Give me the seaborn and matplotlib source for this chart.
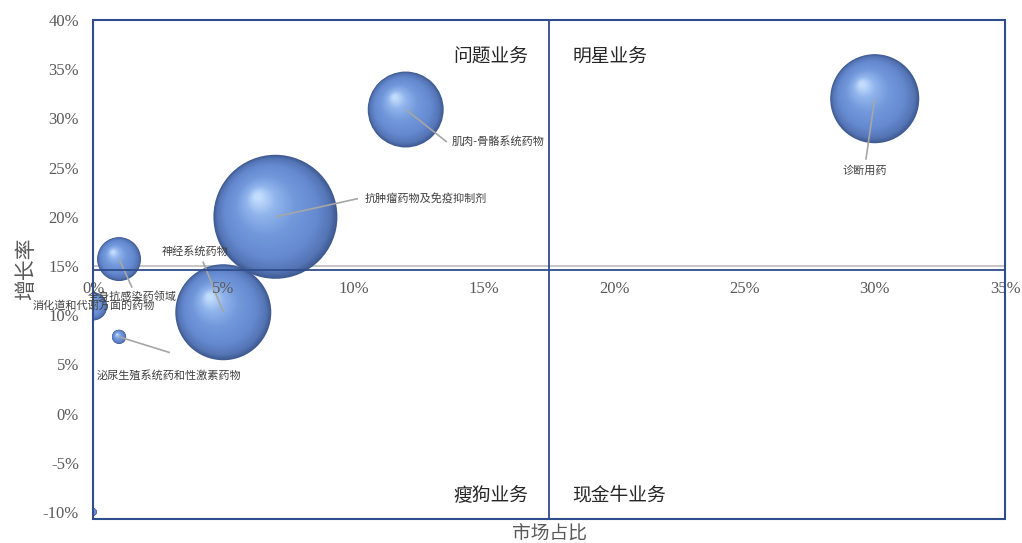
import numpy as np
import pandas as pd
import matplotlib
matplotlib.use("Agg")
import matplotlib.pyplot as plt
import seaborn as sns
from matplotlib.colors import LinearSegmentedColormap
from matplotlib.patches import Rectangle

# ---- data -------------------------------------------------------------
categories = ["抗肿瘤药物及免疫抑制剂", "神经系统药物", "诊断用药", "肌肉-骨骼系统药物",
              "全身抗感染药领域", "消化道和代谢方面的药物", "泌尿生殖系统药和性激素药物", ""]
share = [0.070, 0.050, 0.300, 0.120, 0.010, 0.000, 0.010, 0.000]       # 市场占比
growth = [0.200, 0.103, 0.320, 0.309, 0.157, 0.109, 0.078, -0.100]     # 增长率
scale = [384, 230, 198, 144, 48, 20, 5, 1.5]                             # 规模 (bubble area)

x_ticks = [0.00, 0.05, 0.10, 0.15, 0.20, 0.25, 0.30, 0.35]
y_ticks = [-0.10, -0.05, 0.00, 0.05, 0.10, 0.15, 0.20, 0.25, 0.30, 0.35, 0.40]
quadrants = ["问题业务", "明星业务", "瘦狗业务", "现金牛业务"]
x_split = 0.175
y_split = 0.146
y_ref = 0.15

# ---- style ------------------------------------------------------------
sns.set_theme(style="white")
plt.rcParams["font.family"] = ["Noto Sans CJK SC", "DejaVu Sans"]
NAVY = "#2f4d8c"
GREY_TXT = "#595959"
SERIF = ["Liberation Serif", "DejaVu Serif"]

fig, ax = plt.subplots(figsize=(10.22, 5.43), dpi=100)
fig.subplots_adjust(left=0.091, right=0.9834, bottom=0.0442, top=0.9632)
ax.set_xlim(0, 0.35)
ax.set_ylim(-0.1071, 0.40)
ax.set_axisbelow(False)

df = pd.DataFrame({"category": categories, "share": share,
                   "growth": growth, "scale": scale})

SMAX = 7973.0          # marker area (pt^2) of the largest bubble
NMAX = max(scale)

# base bubbles
sns.scatterplot(data=df, x="share", y="growth", size="scale",
                sizes=(0, SMAX), size_norm=(0, NMAX), legend=False,
                color="#3f5b92", edgecolor="none", linewidth=0, ax=ax, zorder=1)

# spherical shading: stacked, shrinking discs shifted toward the light
shade = LinearSegmentedColormap.from_list(
    "sphere",
    [(0.00, "#3f5b92"), (0.08, "#5474b4"), (0.25, "#6489cf"),
     (0.55, "#7399dc"), (0.80, "#90b4ec"), (1.00, "#c2dcfc")])
areas = np.array(scale, float) / NMAX * SMAX
r_px = np.sqrt(areas) / 2 * fig.dpi / 72
centers = ax.transData.transform(np.column_stack([share, growth]))
n_layers = 50
for k in range(1, n_layers):
    t = k / (n_layers - 1)
    f = 1 - 0.94 * t
    shift = (1 - f) * r_px[:, None] * np.array([-0.30, 0.34])
    pts = ax.transData.inverted().transform(centers + shift)
    ax.scatter(pts[:, 0], pts[:, 1], s=areas * f ** 2, color=shade(t),
               edgecolor="none", linewidth=0, zorder=1 + k * 0.001)

# reference and quadrant lines
ax.axhline(y_ref, color="#c0c0c0", lw=1.3, zorder=0.5)
ax.axvline(x_split, color=NAVY, lw=1.3, zorder=2.6)

# axes: x axis crosses at y_split, framed plot area
for side in ["left", "right", "top"]:
    ax.spines[side].set_visible(False)
ax.spines["bottom"].set_position(("data", y_split))
ax.spines["bottom"].set_color(NAVY)
ax.spines["bottom"].set_linewidth(1.3)
ax.add_patch(Rectangle((0, 0), 1, 1, transform=ax.transAxes, fill=False,
                       ec=NAVY, lw=1.5, clip_on=False, zorder=3))

ax.set_xticks(x_ticks)
ax.set_xticklabels([f"{v*100:.0f}%" for v in x_ticks], fontfamily=SERIF,
                   fontsize=12, color=GREY_TXT)
ax.set_yticks(y_ticks)
ax.set_yticklabels([f"{v*100:.0f}%" for v in y_ticks], fontfamily=SERIF,
                   fontsize=12, color=GREY_TXT)
ax.tick_params(axis="x", length=0, pad=8)
ax.tick_params(axis="y", length=0, pad=10)
ax.set_xlabel("")
ax.set_ylabel("")
ax.grid(False)

fig.text(0.026, 0.505, "增长率", rotation=90, ha="center", va="center",
         fontsize=15, color=GREY_TXT)
fig.text(0.538, 0.016, "市场占比", ha="center", va="center",
         fontsize=13.5, color=GREY_TXT)

# quadrant names
qfont = dict(fontsize=13.5, color="#262626", va="center")
ax.text(0.167, 0.362, quadrants[0], ha="right", **qfont)
ax.text(0.184, 0.362, quadrants[1], ha="left", **qfont)
ax.text(0.167, -0.083, quadrants[2], ha="right", **qfont)
ax.text(0.184, -0.083, quadrants[3], ha="left", **qfont)

# data labels with leader lines: (text x, text y, ha, line end x, line end y)
label_layout = {
    "抗肿瘤药物及免疫抑制剂": (0.1044, 0.219, "left", 0.1017, 0.2185),
    "神经系统药物": (0.0391, 0.165, "center", 0.0422, 0.1545),
    "诊断用药": (0.2960, 0.247, "center", 0.2966, 0.258),
    "肌肉-骨骼系统药物": (0.1378, 0.277, "left", 0.1358, 0.276),
    "全身抗感染药领域": (0.0150, 0.119, "center", 0.0150, 0.128),
    "消化道和代谢方面的药物": (0.0004, 0.109, "center", None, None),
    "泌尿生殖系统药和性激素药物": (0.0290, 0.039, "center", 0.0295, 0.062),
}
for name, sx, gy in zip(categories, share, growth):
    if name not in label_layout:
        continue
    tx, ty, ha, lx, ly = label_layout[name]
    if lx is not None:
        ax.plot([sx, lx], [gy, ly], color="#a6a6a6", lw=1.2, zorder=2,
                solid_capstyle="butt")
    ax.text(tx, ty, name, ha=ha, va="center", fontsize=8, color="#404040",
            zorder=4, clip_on=False)

fig.savefig("out.png", dpi=100)
